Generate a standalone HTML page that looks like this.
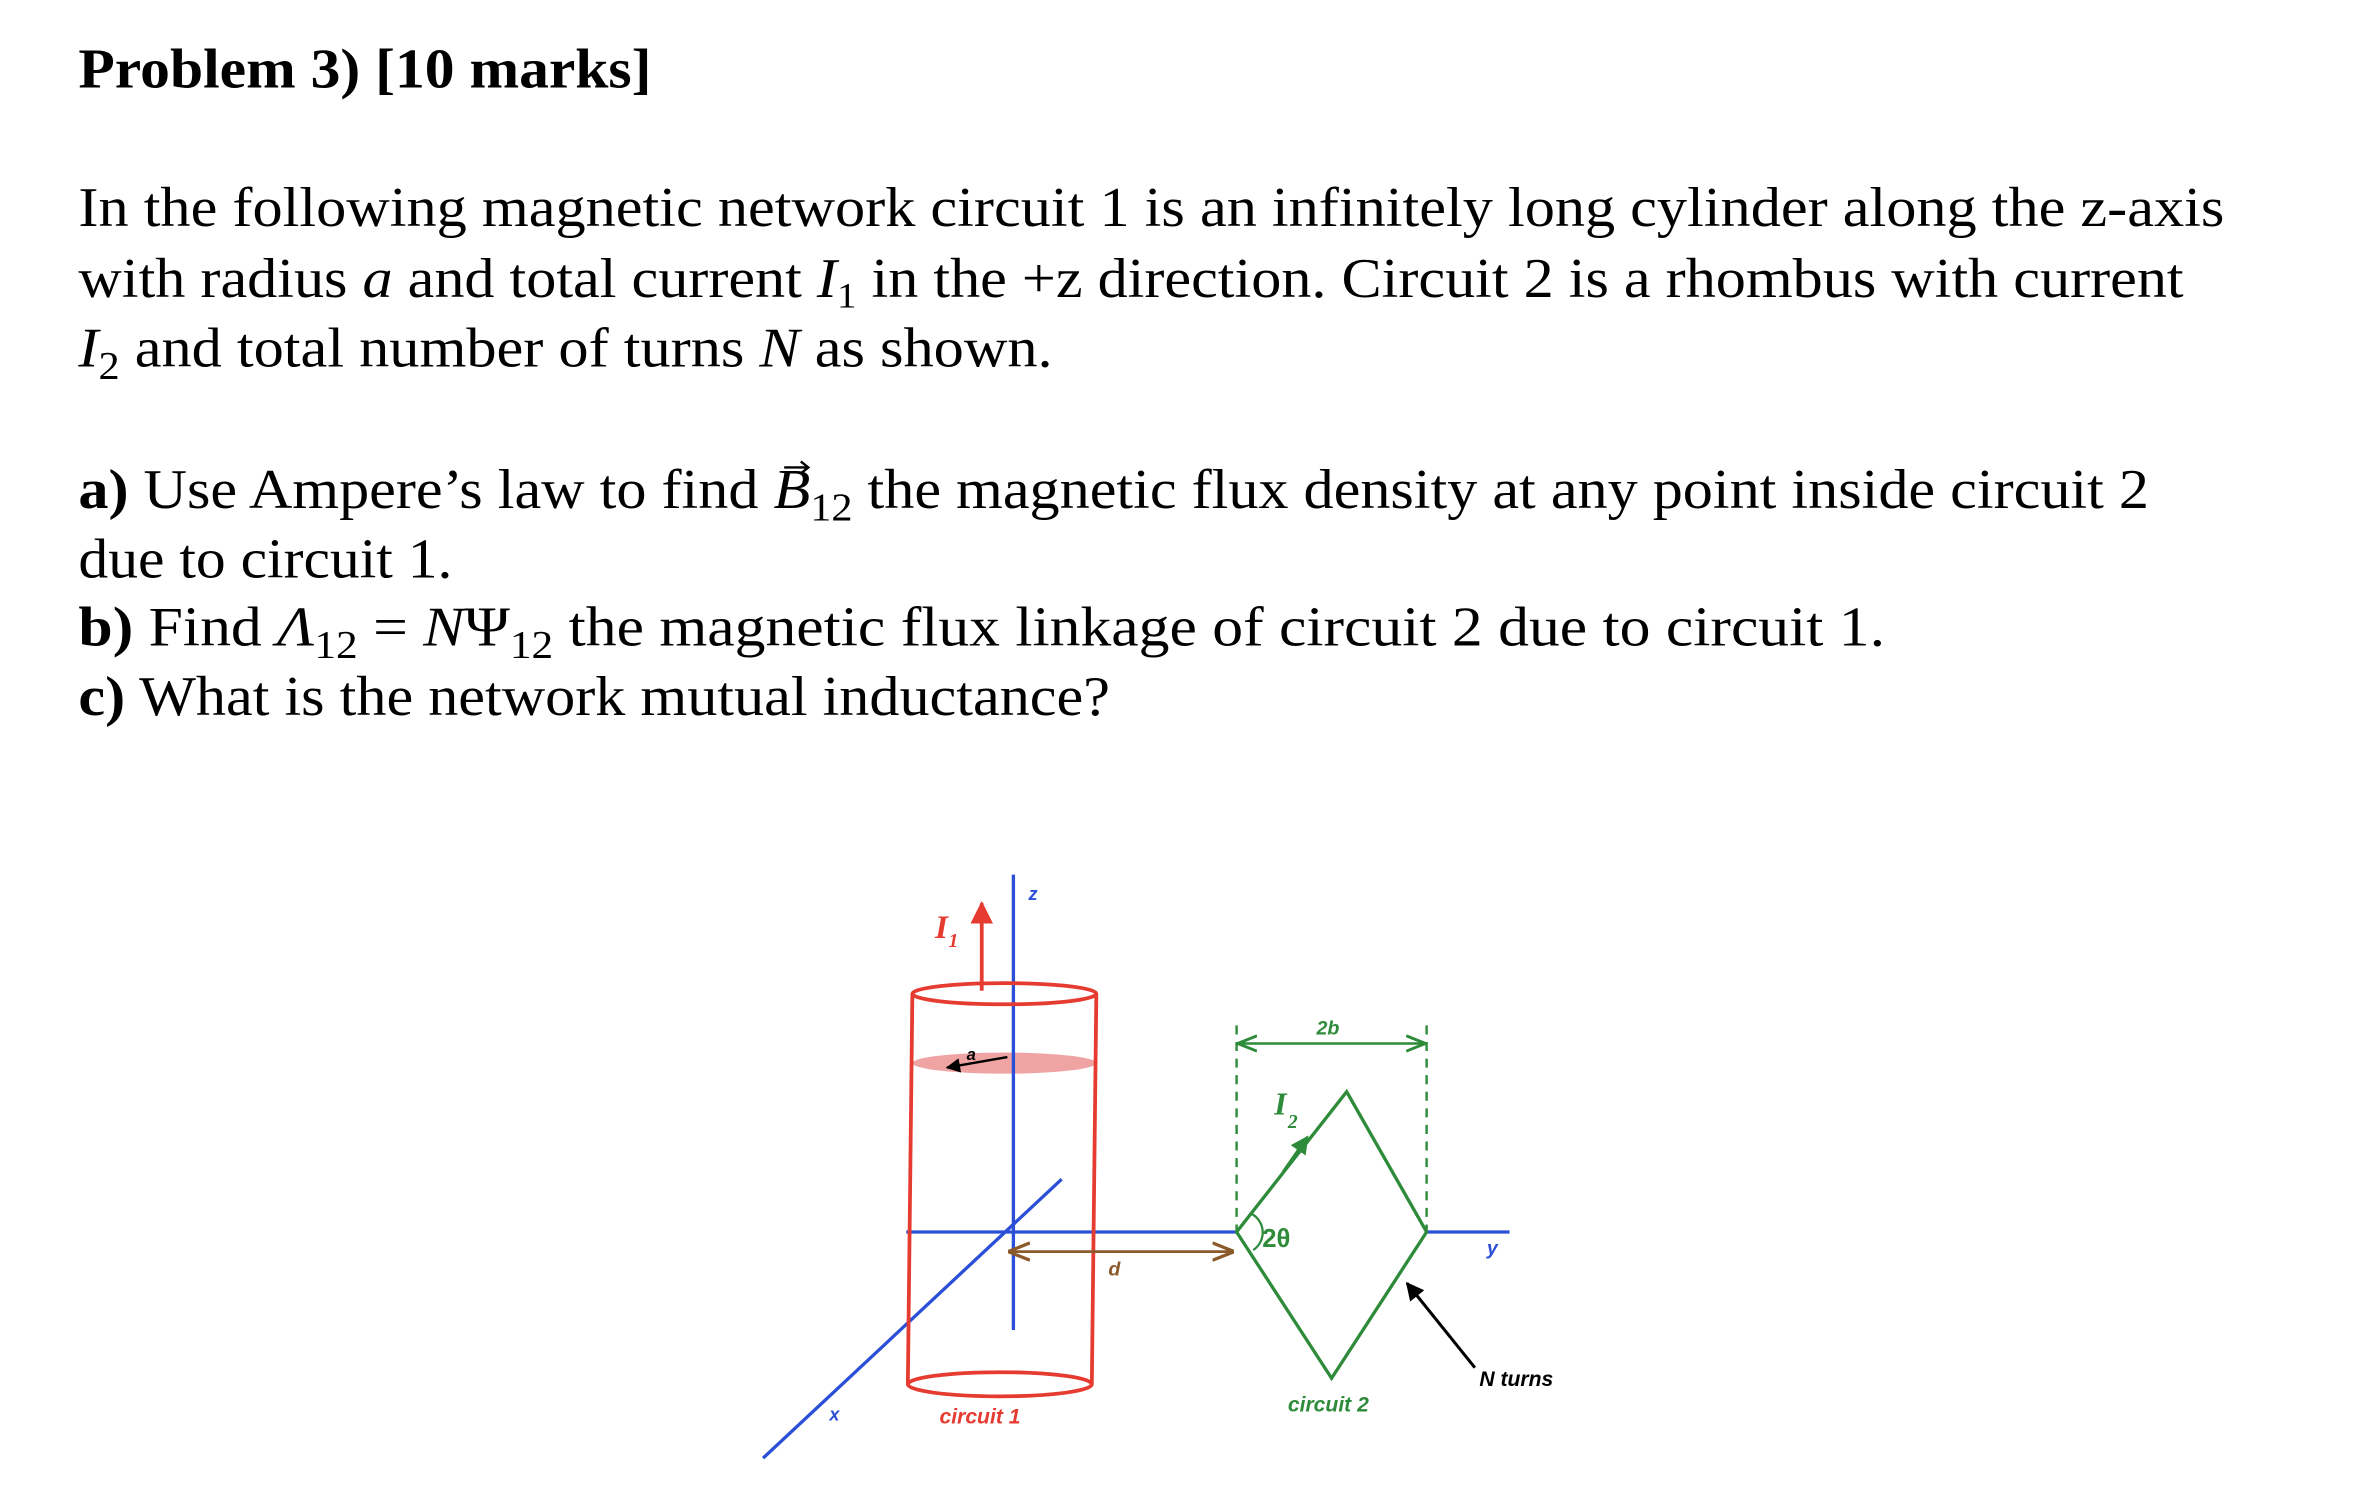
<!DOCTYPE html>
<html><head><meta charset="utf-8"><style>
html,body{margin:0;padding:0;background:#fff;}
svg{display:block;}
.t{font-family:"Liberation Serif",serif;font-size:37px;fill:#000;}
.s{font-family:"Liberation Sans",sans-serif;font-style:italic;font-weight:bold;}
.i{font-family:"Liberation Serif",serif;font-style:italic;font-weight:bold;}
</style></head><body>
<svg width="2353" height="1501" viewBox="0 0 1560.3 995.4" preserveAspectRatio="none" xmlns="http://www.w3.org/2000/svg">
<defs>
<marker id="arR" viewBox="0 0 10 10" refX="9" refY="5" markerWidth="6" markerHeight="6" orient="auto"><path d="M0,0 L10,5 L0,10 z" fill="#e53b30"/></marker>
<marker id="arB" viewBox="0 0 10 10" refX="9" refY="5" markerWidth="6" markerHeight="6" orient="auto"><path d="M0,0 L10,5 L0,10 z" fill="#000"/></marker>
<marker id="arG" viewBox="0 0 10 10" refX="9" refY="5" markerWidth="6" markerHeight="6" orient="auto"><path d="M0,0 L10,5 L0,10 z" fill="#2e8b3a"/></marker>
<marker id="oG" viewBox="0 0 10 10" refX="9" refY="5" markerWidth="8" markerHeight="8" orient="auto-start-reverse"><path d="M0,1 L10,5 L0,9" fill="none" stroke="#2e8b3a" stroke-width="1.5"/></marker>
<marker id="oBr" viewBox="0 0 10 10" refX="9" refY="5" markerWidth="8" markerHeight="8" orient="auto-start-reverse"><path d="M0,1 L10,5 L0,9" fill="none" stroke="#8b5a2b" stroke-width="1.5"/></marker>
</defs>

<text class="t" x="52" y="58" font-weight="bold" font-size="36" textLength="380" lengthAdjust="spacingAndGlyphs">Problem 3) [10 marks]</text>
<text class="t" x="52" y="150" textLength="1423" lengthAdjust="spacingAndGlyphs">In the following magnetic network circuit 1 is an infinitely long cylinder along the z-axis</text>
<text class="t" x="52" y="197" textLength="1396" lengthAdjust="spacingAndGlyphs">with radius <tspan font-style="italic">a</tspan> and total current <tspan font-style="italic">I</tspan><tspan font-size="24" dy="7">1</tspan><tspan dy="-7"> in the +z direction. Circuit 2 is a rhombus with current</tspan></text>
<text class="t" x="52" y="243" textLength="646" lengthAdjust="spacingAndGlyphs"><tspan font-style="italic">I</tspan><tspan font-size="26" dy="8">2</tspan><tspan dy="-8"> and total number of turns </tspan><tspan font-style="italic">N</tspan> as shown.</text>
<text class="t" x="52" y="337" textLength="1373" lengthAdjust="spacingAndGlyphs"><tspan font-weight="bold">a)</tspan> Use Ampere’s law to find <tspan font-style="italic">B</tspan><tspan font-size="26" dy="8">12</tspan><tspan dy="-8"> the magnetic flux density at any point inside circuit 2</tspan></text>
<path d="M520,310 L536,310 M531,306 L536,310 L531,314" stroke="#000" stroke-width="1.6" fill="none"/>
<text class="t" x="52" y="383" textLength="248" lengthAdjust="spacingAndGlyphs">due to circuit 1.</text>
<text class="t" x="52" y="428" textLength="1198" lengthAdjust="spacingAndGlyphs"><tspan font-weight="bold">b)</tspan> Find <tspan font-style="italic">Λ</tspan><tspan font-size="26" dy="8">12</tspan><tspan dy="-8"> = </tspan><tspan font-style="italic">N</tspan>Ψ<tspan font-size="26" dy="8">12</tspan><tspan dy="-8">  the magnetic flux linkage of circuit 2 due to circuit 1.</tspan></text>
<text class="t" x="52" y="474" textLength="684" lengthAdjust="spacingAndGlyphs"><tspan font-weight="bold">c)</tspan> What is the network mutual inductance?</text>

<g transform="translate(-4,-3)">
<ellipse cx="670" cy="708" rx="61" ry="7" fill="#f0a3a3"/>
<line x1="676" y1="583" x2="676" y2="885" stroke="#2b4fd6" stroke-width="2.2"/>
<line x1="510" y1="970" x2="708" y2="785" stroke="#2b4fd6" stroke-width="2.2"/>
<line x1="605" y1="820" x2="824" y2="820" stroke="#2b4fd6" stroke-width="2.2"/>
<line x1="950" y1="820" x2="1005" y2="820" stroke="#2b4fd6" stroke-width="2.2"/>
<ellipse cx="670" cy="662" rx="61" ry="7" fill="none" stroke="#e53b30" stroke-width="2.5"/>
<line x1="609" y1="662" x2="606" y2="921" stroke="#e53b30" stroke-width="2.5"/>
<line x1="731" y1="662" x2="728" y2="921" stroke="#e53b30" stroke-width="2.5"/>
<ellipse cx="667" cy="921" rx="61" ry="8" fill="none" stroke="#e53b30" stroke-width="2.5"/>
<line x1="655" y1="660" x2="655" y2="602" stroke="#e53b30" stroke-width="2.5" marker-end="url(#arR)"/>
<text x="624" y="625" class="i" font-size="22" fill="#e53b30">I</text>
<text x="633" y="631" class="i" font-size="13" fill="#e53b30">1</text>
<text x="686" y="600" class="s" font-size="12" fill="#2b4fd6">z</text>
<line x1="672" y1="704" x2="632" y2="711" stroke="#000" stroke-width="1.6" marker-end="url(#arB)"/>
<text x="645" y="706" class="s" font-size="11" fill="#000">a</text>
<text x="554" y="945" class="s" font-size="12" fill="#2b4fd6">x</text>
<text x="990" y="835" class="s" font-size="13" fill="#2b4fd6">y</text>
<text x="627" y="947" class="s" font-size="14" fill="#e53b30">circuit 1</text>

<line x1="674" y1="833" x2="821" y2="833" stroke="#8b5a2b" stroke-width="1.8" marker-start="url(#oBr)" marker-end="url(#oBr)"/>
<text x="739" y="849" class="s" font-size="13" fill="#8b5a2b">d</text>

<line x1="824" y1="683" x2="824" y2="820" stroke="#2e8b3a" stroke-width="1.6" stroke-dasharray="6,5"/>
<line x1="950" y1="683" x2="950" y2="820" stroke="#2e8b3a" stroke-width="1.6" stroke-dasharray="6,5"/>
<line x1="826" y1="695" x2="948" y2="695" stroke="#2e8b3a" stroke-width="1.6" marker-start="url(#oG)" marker-end="url(#oG)"/>
<text x="877" y="689" class="s" font-size="13" fill="#2e8b3a">2b</text>
<polygon points="824,820 897,727 950,820 887,917" fill="none" stroke="#2e8b3a" stroke-width="2.2"/>
<line x1="855" y1="780" x2="871" y2="757" stroke="#2e8b3a" stroke-width="2" marker-end="url(#arG)"/>
<text x="849" y="742" class="i" font-size="21" fill="#2e8b3a">I</text>
<text x="858" y="751" class="i" font-size="13" fill="#2e8b3a">2</text>
<path d="M834,808 A14,14 0 0 1 835,832" fill="none" stroke="#2e8b3a" stroke-width="1.5"/>
<text x="841" y="830" font-family="Liberation Sans" font-weight="bold" font-size="17" fill="#2e8b3a">2θ</text>

<line x1="982" y1="910" x2="937" y2="854" stroke="#000" stroke-width="2" marker-end="url(#arB)"/>
<text x="985" y="922" class="s" font-size="14" fill="#000">N turns</text>
<text x="858" y="939" class="s" font-size="14" fill="#2e8b3a">circuit 2</text>
</g>
</svg>
</body></html>
